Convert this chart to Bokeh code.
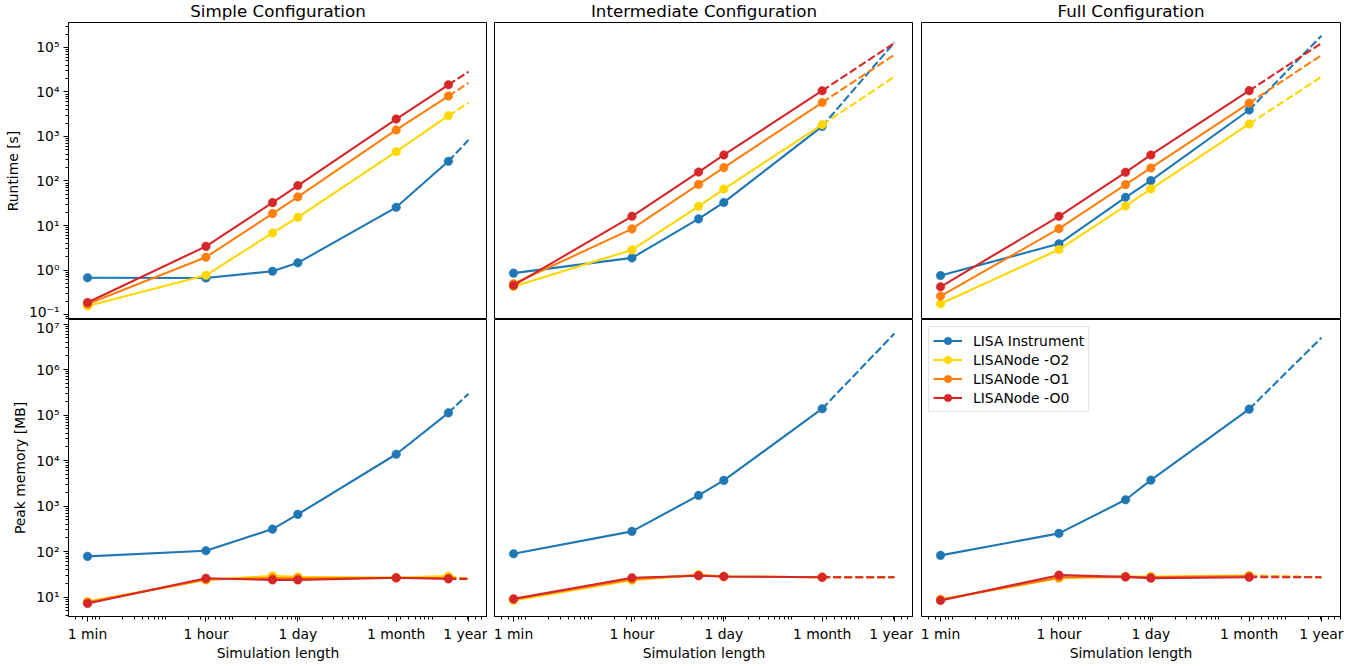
from bokeh.plotting import figure
from bokeh.layouts import column, row
from bokeh.models import FixedTicker, CustomJSTickFormatter, Range1d, Legend, LegendItem
from bokeh.embed import file_html
from bokeh.resources import INLINE

# ---------------- data ----------------
MINUTE, HOUR, DAY, MONTH, YEAR = 60, 3600, 86400, 2592000, 31536000
x_ticks = [MINUTE, HOUR, DAY, MONTH, YEAR]
x_tick_labels = ["1 min", "1 hour", "1 day", "1 month", "1 year"]

x_simple = [60, 3600, 36000, 86400, 2592000, 15768000]
x_other = [60, 3600, 36000, 86400, 2592000]
x_extrap = 31536000

series_names = ["LISA Instrument", "LISANode -O2", "LISANode -O1", "LISANode -O0"]
series_colors = ["#1f77b4", "#ffd700", "#ff7f0e", "#d62728"]

config_titles = ["Simple Configuration", "Intermediate Configuration", "Full Configuration"]

# Runtime [s]
rt_simple_instr = [0.67, 0.66, 0.94, 1.45, 25.6, 277]
rt_simple_o2 = [0.155, 0.76, 6.8, 15.3, 455, 2930]
rt_simple_o1 = [0.172, 1.94, 18.5, 44, 1400, 8100]
rt_simple_o0 = [0.186, 3.4, 32.7, 79, 2470, 14500]
rt_simple_ext = [830, 5700, 16000, 28500]

rt_inter_instr = [0.85, 1.87, 14.1, 33, 1690]
rt_inter_o2 = [0.425, 2.83, 27, 66, 1840]
rt_inter_o1 = [0.49, 8.4, 84, 200, 5800]
rt_inter_o0 = [0.45, 16.1, 159, 385, 10700]
rt_inter_ext = [130000, 22000, 68600, 126000]

rt_full_instr = [0.75, 3.87, 43, 102, 3940]
rt_full_o2 = [0.174, 2.88, 27.5, 66, 1910]
rt_full_o1 = [0.26, 8.5, 83, 196, 5640]
rt_full_o0 = [0.42, 16.1, 157, 385, 10700]
rt_full_ext = [183000, 22000, 67000, 124000]

# Peak memory [MB]
mem_simple_instr = [79, 105, 313, 660, 13800, 112000]
mem_simple_o2 = [8.0, 24, 29.5, 28, 27, 29]
mem_simple_o1 = [7.7, 24.5, 26.5, 26, 26.5, 26.5]
mem_simple_o0 = [7.3, 26, 24, 24, 26.7, 25.3]
mem_simple_ext = [295000, 25.3, 25.3, 25.3]

mem_inter_instr = [90, 279, 1720, 3680, 138000]
mem_inter_o2 = [8.5, 23.5, 31, 28.5, 27.5]
mem_inter_o1 = [9.0, 25, 30.5, 28.5, 27.5]
mem_inter_o0 = [9.2, 26.7, 29.5, 28.5, 27.5]
mem_inter_ext = [6200000, 27.5, 27.5, 27.5]

mem_full_instr = [83, 252, 1380, 3720, 135000]
mem_full_o2 = [9.0, 26, 28.5, 28.5, 30]
mem_full_o1 = [8.8, 27, 28, 27.5, 29]
mem_full_o0 = [8.5, 30.5, 28, 26.2, 27.5]
mem_full_ext = [5000000, 27.5, 27.5, 27.5]

runtime_panels = [
    (x_simple, [rt_simple_instr, rt_simple_o2, rt_simple_o1, rt_simple_o0], rt_simple_ext),
    (x_other, [rt_inter_instr, rt_inter_o2, rt_inter_o1, rt_inter_o0], rt_inter_ext),
    (x_other, [rt_full_instr, rt_full_o2, rt_full_o1, rt_full_o0], rt_full_ext),
]
memory_panels = [
    (x_simple, [mem_simple_instr, mem_simple_o2, mem_simple_o1, mem_simple_o0], mem_simple_ext),
    (x_other, [mem_inter_instr, mem_inter_o2, mem_inter_o1, mem_inter_o0], mem_inter_ext),
    (x_other, [mem_full_instr, mem_full_o2, mem_full_o1, mem_full_o0], mem_full_ext),
]

# ---------------- styling ----------------
FONT = "DejaVu Sans"
FS = "13.9px"
FRAME_W, FRAME_H = 419, 297
x_range_vals = (31.05, 6.095e7)
rt_range_vals = (0.0773, 3.64e5)
mem_range_vals = (3.77, 1.257e7)


def minor_list(lo_exp, hi_exp):
    out = []
    for e in range(lo_exp, hi_exp + 1):
        for k in range(2, 10):
            out.append(k * 10.0 ** e)
    return out


sup_js = """
const m = {'-':'\u207b','0':'\u2070','1':'\u00b9','2':'\u00b2','3':'\u00b3','4':'\u2074','5':'\u2075','6':'\u2076','7':'\u2077','8':'\u2078','9':'\u2079'};
const e = Math.round(Math.log10(tick));
return '10' + String(e).split('').map(c => m[c]).join('');
"""


def style_axis(ax):
    ax.major_label_text_font = FONT
    ax.major_label_text_font_size = FS
    ax.major_label_text_color = "black"
    ax.axis_label_text_font = FONT
    ax.axis_label_text_font_size = FS
    ax.axis_label_text_font_style = "normal"
    ax.axis_label_text_color = "black"
    ax.major_tick_out = 5
    ax.major_tick_in = 0
    ax.minor_tick_out = 3
    ax.minor_tick_in = 0
    ax.major_tick_line_color = "black"
    ax.minor_tick_line_color = "black"
    ax.axis_line_color = "black"
    ax.major_label_standoff = 4


x_rng = Range1d(*x_range_vals)
rt_rng = Range1d(*rt_range_vals)
mem_rng = Range1d(*mem_range_vals)

figs_top, figs_bot = [], []

for ci in range(3):
    for ri, (panels, yr) in enumerate([(runtime_panels, rt_rng), (memory_panels, mem_rng)]):
        xs, ys_list, ext = panels[ci]
        show_y = ci == 0
        show_x = ri == 1
        p = figure(
            x_axis_type="log", y_axis_type="log",
            x_range=x_rng, y_range=yr,
            x_axis_location="below" if show_x else None,
            y_axis_location="left" if show_y else None,
            frame_width=FRAME_W, frame_height=FRAME_H,
            toolbar_location=None, output_backend="svg",
            min_border_left=68 if ci == 0 else (7 if ci == 1 else 8),
            min_border_right=29 if ci == 2 else 0,
            min_border_top=21 if ri == 0 else 0,
            min_border_bottom=50 if ri == 1 else 0,
            background_fill_color="white", border_fill_color="white",
        )
        p.outline_line_color = "black"
        p.outline_line_width = 1
        p.outline_line_alpha = 1
        if ri == 0:
            p.title.text = config_titles[ci]
            p.title.align = "center"
            p.title.vertical_align = "top"
            p.title.text_font = FONT
            p.title.text_font_size = "16.7px"
            p.title.text_font_style = "normal"
            p.title.text_color = "black"
            p.title.text_line_height = 1.0
            p.title.standoff = 0
            p.title.offset = 0
        if show_x:
            p.xaxis.ticker = FixedTicker(ticks=x_ticks, minor_ticks=minor_list(1, 7))
            p.xaxis.major_label_overrides = {t: l for t, l in zip(x_ticks, x_tick_labels)}
            p.xaxis.axis_label = "Simulation length"
            style_axis(p.xaxis[0])
            p.xaxis.axis_label_standoff = 0
        if show_y:
            if ri == 0:
                p.yaxis.ticker = FixedTicker(ticks=[10.0 ** e for e in range(-1, 6)], minor_ticks=minor_list(-2, 5))
                p.yaxis.axis_label = "Runtime [s]"
            else:
                p.yaxis.ticker = FixedTicker(ticks=[10.0 ** e for e in range(1, 8)], minor_ticks=minor_list(0, 7))
                p.yaxis.axis_label = "Peak memory [MB]"
            p.yaxis.formatter = CustomJSTickFormatter(code=sup_js)
            style_axis(p.yaxis[0])
        p.grid.visible = False

        rends = []
        for si, (name, color) in enumerate(zip(series_names, series_colors)):
            ys = ys_list[si]
            lr = p.line(xs, ys, line_color=color, line_width=2.1)
            sr = p.scatter(xs, ys, size=8.6, fill_color=color, line_color=color, line_width=0.5)
            p.line([xs[-1], x_extrap], [ys[-1], ext[si]], line_color=color, line_width=2.1, line_dash="8 3")
            rends.append((name, [lr, sr]))
        if ci == 2 and ri == 1:
            legend = Legend(items=[LegendItem(label=n, renderers=r) for n, r in rends],
                            location="top_left")
            legend.label_text_font = FONT
            legend.label_text_font_size = FS
            legend.label_text_color = "black"
            legend.border_line_color = "#cccccc"
            legend.border_line_width = 1
            legend.background_fill_alpha = 0.8
            legend.padding = 4
            legend.spacing = 0
            legend.margin = 7
            legend.glyph_width = 29
            legend.glyph_height = 19
            legend.label_height = 19
            legend.label_standoff = 11
            p.add_layout(legend)
        (figs_top if ri == 0 else figs_bot).append(p)

layout = column(row(*figs_top, spacing=0), row(*figs_bot, spacing=0), spacing=0)

open("out.html", "w").write(file_html(layout, INLINE))
